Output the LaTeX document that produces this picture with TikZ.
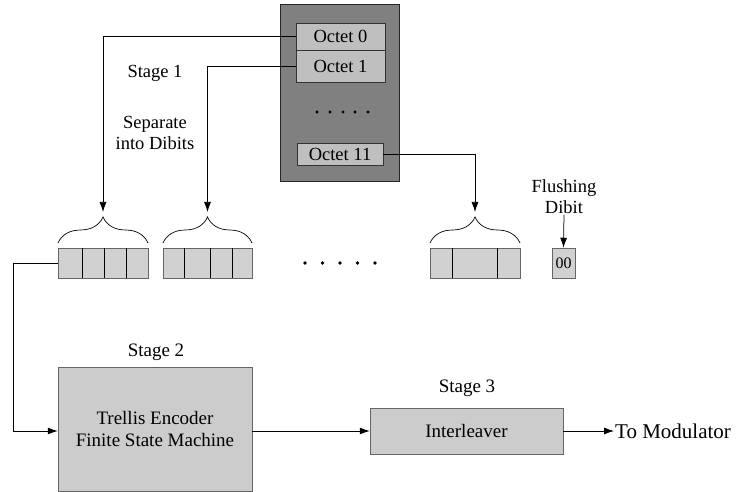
\documentclass[tikz,border=0pt]{standalone}
\usepackage{fontspec}
\setmainfont{Liberation Serif}
\usetikzlibrary{arrows.meta,decorations.pathreplacing}
\begin{document}
\begin{tikzpicture}[x=1pt,y=-1pt,font=\fontsize{19}{21}\selectfont,
  arr/.style={draw=black, line width=0.75pt, -{Latex[length=10pt,width=7pt]}},
  ln/.style={draw=black, line width=0.7pt},
  cellgrp/.style={draw=black!60, line width=0.5pt, fill=black!18, inner sep=0pt, minimum height=30pt},
  octet/.style={draw=black!80, line width=0.6pt, fill=black!25, inner sep=0pt, font=\fontsize{18.5}{20}\selectfont},
  bigbox/.style={draw=black!85, line width=1pt, fill=black!50, inner sep=0pt},
  procbox/.style={draw=black!60, line width=0.5pt, fill=black!20, inner sep=0pt, align=center},
  brc/.style={draw=black, line width=0.7pt, decorate, decoration={brace, amplitude=26pt, aspect=0.5}},
  lbl/.style={inner sep=1pt, align=center},
  biglbl/.style={inner sep=1pt, align=center, font=\fontsize{18.5}{21}\selectfont}]
\useasboundingbox (0,0) rectangle (753,492);

% octet store
\node[bigbox, minimum width=119pt, minimum height=177pt] (big) at (340,93.5) {};
\node[octet, minimum width=89pt, minimum height=27pt] (o0) at (340.5,36.5) {Octet 0};
\node[octet, minimum width=89pt, minimum height=32pt] (o1) at (340.5,66) {Octet 1};
\node[octet, minimum width=86pt, minimum height=22pt] (o11) at (340,154) {Octet 11};
\foreach \x [count=\i] in {317,330,343,355,368}
  \fill[black] (\x,112) circle (1.6pt) coordinate (bd\i);

% labels
\node[biglbl] (s1) at (155,73) {Stage 1};
\node[biglbl] (sep) at (155,132.5) {Separate\\into Dibits};
\node[biglbl] (flush) at (564,196.5) {Flushing\\Dibit};

% dibit groups
\node[cellgrp, minimum width=90pt] (g1) at (103,263) {};
\node[cellgrp, minimum width=89pt] (g2) at (207.5,263) {};
\node[cellgrp, minimum width=90pt] (g3) at (475,263) {};
\node[cellgrp, minimum width=23pt, font=\fontsize{16}{18}\selectfont] (f00) at (563.5,263) {00};
\foreach \x in {82,104,126} \draw[ln] (\x,248) -- (\x,278);
\foreach \x in {184,210,232} \draw[ln] (\x,248) -- (\x,278);
\foreach \x in {452,497} \draw[ln] (\x,248) -- (\x,278);
\foreach \x [count=\i] in {305,322.5,340,357.5,375}
  \fill (\x,263) circle (1.8pt) coordinate (d\i);

% braces
\draw[brc] (58,243) -- (148,243);
\draw[brc] (163,243) -- (252,243);
\draw[brc] (430,243) -- (520,243);
\coordinate (b1) at (103,212);
\coordinate (b2) at (207.5,212);
\coordinate (b3) at (475,212);

% feeding connectors
\draw[arr] (o0.west) -| (b1);
\draw[arr] (o1.west) -| (b2);
\draw[arr] (o11.east) -| (b3);
\draw[arr] (flush.south) -- (f00.north);

% stages 2 and 3
\node[lbl] (s2) at (156,352) {Stage 2};
\node[procbox, minimum width=194pt, minimum height=124pt] (tr) at (155,429) {Trellis Encoder\\Finite State Machine};
\node[lbl] (s3) at (467,388) {Stage 3};
\node[procbox, minimum width=193pt, minimum height=46pt] (il) at (466.5,431) {Interleaver};
\node[lbl, anchor=west, font=\fontsize{21}{23}\selectfont] (mod) at (614,431) {To Modulator};

\draw[arr] (g1.west) -- ++(-44,0) |- (tr.west |- il.west);
\draw[arr] (tr.east |- il.west) -- (il.west);
\draw[arr] (il.east) -- (mod.west);
\end{tikzpicture}
\end{document}
